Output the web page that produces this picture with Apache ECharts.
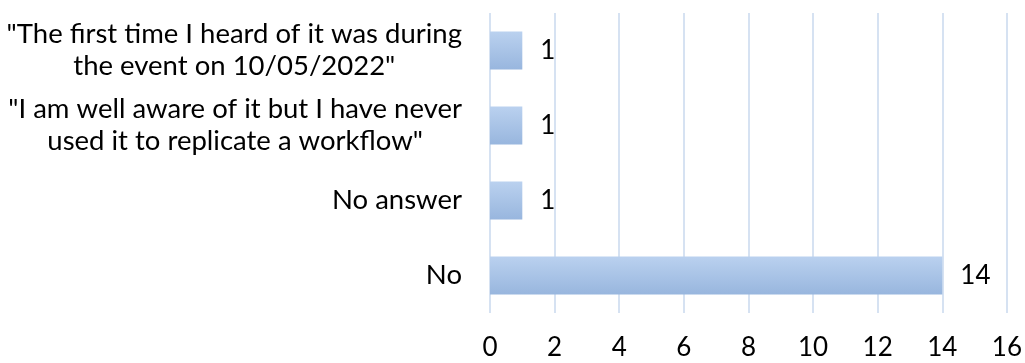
<!DOCTYPE html>
<html>
<head>
<meta charset="utf-8">
<script src="https://cdn.jsdelivr.net/npm/echarts@6/dist/echarts.min.js"></script>
<style>
html,body{margin:0;padding:0;background:#fff;}
#chart{width:1025px;height:363px;}
</style>
</head>
<body>
<div id="chart"></div>
<script>
const categories = [
  '"The first time I heard of it was during\nthe event on 10/05/2022"',
  '"I am well aware of it but I have never\nused it to replicate a workflow"',
  'No answer',
  'No'
];
const values = [1, 1, 1, 14];
const xTicks = [0, 2, 4, 6, 8, 10, 12, 14, 16];

const FONT = 'Lato, "Liberation Sans", sans-serif';
const FS = 27.5;
const chart = echarts.init(document.getElementById('chart'), null, {renderer: 'canvas'});
chart.setOption({
  animation: false,
  grid: {left: 490, right: 17, top: 13, bottom: 50, containLabel: false},
  xAxis: {
    type: 'value',
    min: xTicks[0],
    max: xTicks[xTicks.length - 1],
    interval: 2,
    axisLine: {show: false},
    axisTick: {show: false},
    splitLine: {show: true, lineStyle: {color: '#d6e2f2', width: 2}},
    axisLabel: {fontSize: 26, fontFamily: FONT, color: '#000', margin: 22}
  },
  yAxis: {
    type: 'category',
    inverse: true,
    data: categories,
    axisLine: {show: false},
    axisTick: {show: false},
    axisLabel: {
      margin: 28,
      formatter: function (v) {
        return v.split('\n').map(l => '{c|' + l + '}').join('\n');
      },
      rich: {
        c: {align: 'center', fontSize: FS, fontFamily: FONT, color: '#000', lineHeight: 32}
      }
    }
  },
  series: [{
    type: 'bar',
    data: values,
    barWidth: 38,
    itemStyle: {
      color: new echarts.graphic.LinearGradient(0, 0, 0, 1, [
        {offset: 0, color: '#bad1ef'},
        {offset: 1, color: '#98b6de'}
      ])
    },
    label: {
      show: true,
      position: 'right',
      distance: 18,
      fontSize: 26,
      fontFamily: FONT,
      color: '#000'
    }
  }]
});
</script>
</body>
</html>
